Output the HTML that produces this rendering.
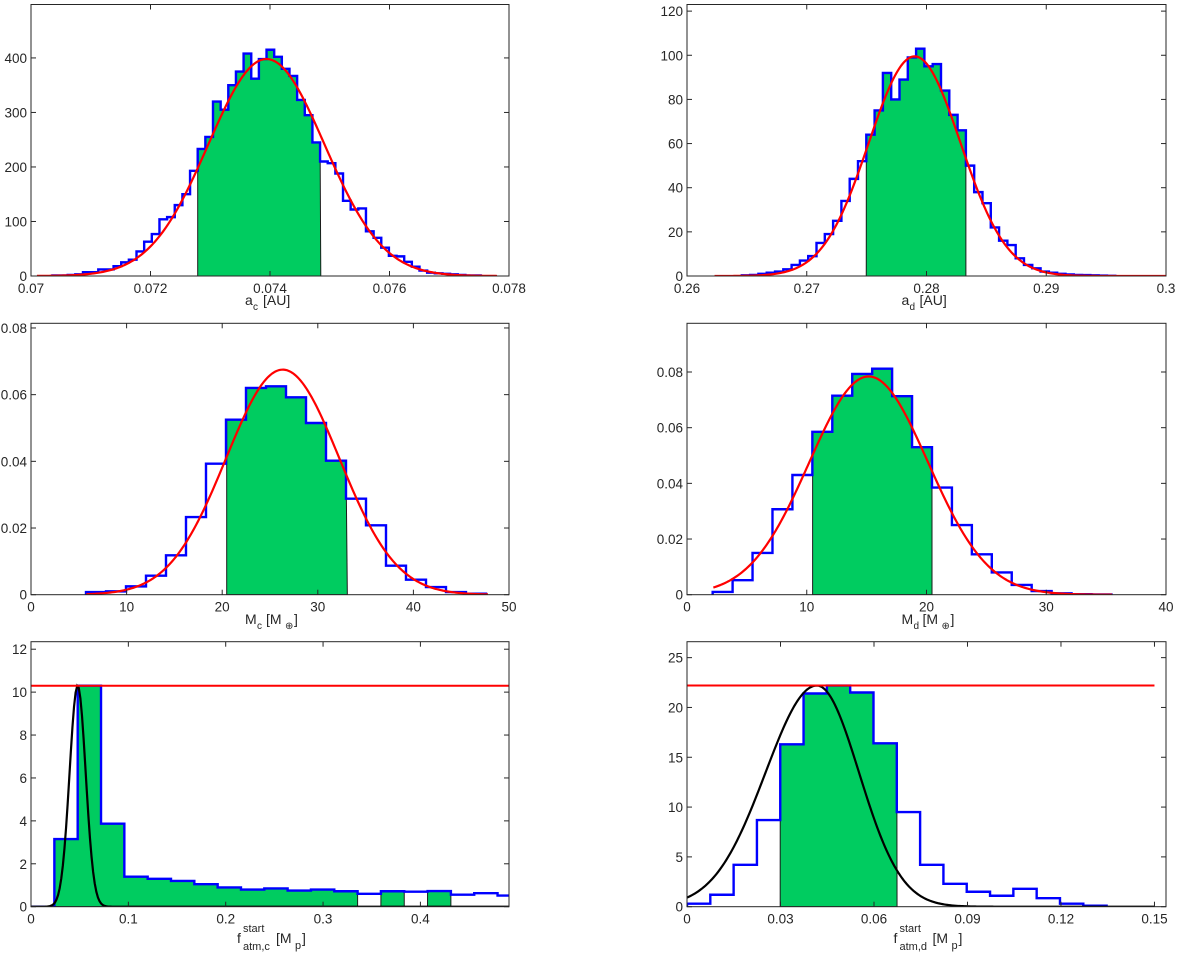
<!DOCTYPE html>
<html><head><meta charset="utf-8"><style>
body{margin:0;background:#fff}
svg{display:block;font-family:"Liberation Sans",sans-serif}
</style></head><body>
<svg id="fig" width="1200" height="953" viewBox="0 0 1200 953" xmlns="http://www.w3.org/2000/svg"></svg>
<script>
// ---- panel a_c ----
const acBinStart = 0.070358, acBinWidth = 0.000128;
const acCounts = [1,1,2,3,7,7,12,12,18,25,30,45,63,77,104,108,130,150,193,233,255,320,305,350,375,408,362,398,415,402,380,367,323,295,245,210,207,188,138,122,124,82,70,52,37,36,26,17,10,6,5,4,3,2,1,1];
const acGreen = [[0.07279,0.07485]];
const acFit = [398,0.07394,0.000972];
const acXTicks = [0.07,0.072,0.074,0.076,0.078];
const acXLabels = ["0.07","0.072","0.074","0.076","0.078"];
const acYTicks = [0,100,200,300,400];
const acYLabels = ["0","100","200","300","400"];
// ---- panel a_d ----
const adBinStart = 0.264578, adBinWidth = 0.000693;
const adCounts = [0.3,0.5,1,1.5,2,3,5,7,9,15,19,25,34,44,52,64,75,92,80,89,99,103,95,96,84,73,66,50,38,33,22,16,14,8,5,3.5,2,1.5,1,0.7,0.5,0.4,0.3,0.2,0.1];
const adGreen = [[0.27497,0.28329]];
const adFit = [99.5,0.27901,0.00383];
const adXTicks = [0.26,0.27,0.28,0.29,0.3];
const adXLabels = ["0.26","0.27","0.28","0.29","0.3"];
const adYTicks = [0,20,40,60,80,100,120];
const adYLabels = ["0","20","40","60","80","100","120"];
// ---- panel M_c ----
const mcBinStart = 5.753, mcBinWidth = 2.092;
const mcCounts = [0.0008,0.001,0.0025,0.0057,0.0118,0.0233,0.0393,0.0525,0.062,0.0625,0.0592,0.0515,0.0402,0.0288,0.0208,0.0087,0.0045,0.0023,0.0008,0.0003];
const mcGreen = [[20.47,33.09]];
const mcFit = [0.0675,26.33,5.92];
const mcXTicks = [0,10,20,30,40,50];
const mcXLabels = ["0","10","20","30","40","50"];
const mcYTicks = [0,0.02,0.04,0.06,0.08];
const mcYLabels = ["0","0.02","0.04","0.06","0.08"];
// ---- panel M_d ----
const mdBinStart = 2.143, mdBinWidth = 1.665;
const mdCounts = [0.001,0.0052,0.015,0.0307,0.043,0.0585,0.0715,0.0793,0.0812,0.0713,0.053,0.0385,0.025,0.0145,0.008,0.0035,0.0013,0.0005,0.0002,0.0001];
const mdGreen = [[10.49,20.46]];
const mdFit = [0.0784,15.17,4.96];
const mdXTicks = [0,10,20,30,40];
const mdXLabels = ["0","10","20","30","40"];
const mdYTicks = [0,0.02,0.04,0.06,0.08];
const mdYLabels = ["0","0.02","0.04","0.06","0.08"];
// ---- panel f_atm,c ----
const fcBinStart = 0.024, fcBinWidth = 0.02396;
const fcCounts = [3.15,10.3,3.87,1.4,1.3,1.2,1.05,0.9,0.8,0.85,0.75,0.8,0.72,0.6,0.72,0.7,0.73,0.56,0.63,0.52];
const fcGreen = [[0.024,0.3355],[0.3594,0.3834],[0.4073,0.4313]];
const fcFit = [10.3,0.0479,0.00828,0.00828];
const fcLimit = 10.3;
const fcXTicks = [0,0.1,0.2,0.3,0.4];
const fcXLabels = ["0","0.1","0.2","0.3","0.4"];
const fcYTicks = [0,2,4,6,8,10,12];
const fcYLabels = ["0","2","4","6","8","10","12"];
// ---- panel f_atm,d ----
const fdBinStart = 0, fdBinWidth = 0.00748;
const fdCounts = [0.3,1.2,4.2,8.7,16.3,21.4,22.2,21.5,16.4,9.5,4.2,2.3,1.5,1.1,1.8,0.85,0.3,0.1];
const fdGreen = [[0.0299,0.0674]];
const fdFit = [22.2,0.0417,0.0165,0.0135];
const fdLimit = 22.2;
const fdXTicks = [0,0.03,0.06,0.09,0.12,0.15];
const fdXLabels = ["0","0.03","0.06","0.09","0.12","0.15"];
const fdYTicks = [0,5,10,15,20,25];
const fdYLabels = ["0","5","10","15","20","25"];

const NS="http://www.w3.org/2000/svg";
const svg=document.getElementById('fig');
function mk(tag,attrs,parent){const e=document.createElementNS(NS,tag);for(const k in attrs)e.setAttribute(k,attrs[k]);(parent||svg).appendChild(e);return e;}
function txt(g,x,y,s,size,anchor){const t=mk('text',{x:x,y:y,'font-size':size,fill:'#262626','text-anchor':anchor||'start'},g);t.textContent=s;return t;}

function panel(o){
  const g=mk('g',{});
  
  
  const X=v=>o.x0+(v-o.xmin)/(o.xmax-o.xmin)*(o.x1-o.x0);
  const Y=v=>o.y0-(v-o.ymin)/(o.ymax-o.ymin)*(o.y0-o.y1);
  const cid='clip-'+o.name;
  const cp=mk('clipPath',{id:cid},g);mk('rect',{x:o.x0,y:o.y1,width:o.x1-o.x0,height:o.y0-o.y1},cp);
  const pg=mk('g',{'clip-path':'url(#'+cid+')'},g);
  o.green.forEach(r=>{
    let d='M'+X(r[0])+','+Y(0);
    o.counts.forEach((c,i)=>{const a=o.bs+i*o.bw,b=a+o.bw;const m=(a+b)/2;if(m>r[0]&&m<r[1]){d+='L'+X(Math.max(a,r[0]))+','+Y(c)+'L'+X(Math.min(b,r[1]))+','+Y(c);}});
    d+='L'+X(r[1])+','+Y(0)+'Z';
    const p=mk('path',{d:d,fill:'#00cc60',stroke:'#1a1a1a','stroke-width':1},pg);
    
    
  });
  let d='M'+X(o.bs)+','+Y(0);
  if(o.baseFrom!==undefined) d='M'+X(o.baseFrom)+','+Y(0)+'L'+X(o.bs)+','+Y(0);
  o.counts.forEach((c,i)=>{const a=o.bs+i*o.bw;d+='L'+X(a)+','+Y(c)+'L'+X(a+o.bw)+','+Y(c);});
  d+='L'+X(o.bs+o.counts.length*o.bw)+','+Y(0);
  const h=mk('path',{d:d,fill:'none',stroke:'#0000ff','stroke-width':2.4,'stroke-linejoin':'miter'},pg);
  
  
  const f=o.fit;let fd='';const n=300;
  for(let i=0;i<=n;i++){const v=o.fx0+(o.fx1-o.fx0)*i/n;const s=f.length>3?(v<f[1]?f[2]:f[3]):f[2];const yv=f[0]*Math.exp(-(v-f[1])*(v-f[1])/(2*s*s));fd+=(i?'L':'M')+X(v).toFixed(2)+','+Y(yv).toFixed(2);}
  const fc=mk('path',{d:fd,fill:'none',stroke:o.fitColor,'stroke-width':2.2},pg);
  
  
  if(o.limit!==undefined){
    const l=mk('line',{x1:X(o.xmin),x2:X(o.limitTo),y1:Y(o.limit),y2:Y(o.limit),stroke:'#ff0000','stroke-width':2},pg);
    
    
  }
  const bx=mk('rect',{x:o.x0,y:o.y1,width:o.x1-o.x0,height:o.y0-o.y1,fill:'none',stroke:'#262626','stroke-width':1},g);
  
  
  o.xt.forEach((t,i)=>{const x=X(t);
    mk('line',{x1:x,x2:x,y1:o.y0,y2:o.y0-5,stroke:'#262626'},g);mk('line',{x1:x,x2:x,y1:o.y1,y2:o.y1+5,stroke:'#262626'},g);
    const tx=txt(g,x,o.y0+17,o.xl[i],13.5,'middle');
    
    
  });
  o.yt.forEach((t,i)=>{const y=Y(t);
    mk('line',{x1:o.x0,x2:o.x0+5,y1:y,y2:y,stroke:'#262626'},g);mk('line',{x1:o.x1,x2:o.x1-5,y1:y,y2:y,stroke:'#262626'},g);
    const tx=txt(g,o.x0-4,y+5,o.yl[i],13.5,'end');
    
    
  });
  const lg=mk('g',{},g);
  
  
  const cx=(o.x0+o.x1)/2, y=o.labY;
  if(o.kind==='f'){
    txt(lg,cx-33,y,'f',14);
    txt(lg,cx-27,y-11,'start',11);
    txt(lg,cx-27,y+7,o.sub,11);
    txt(lg,cx+6,y,'[M',14);
    txt(lg,cx+25,y+6,'p',11);
    txt(lg,cx+32,y,']',14);
  } else {
    const w=o.sub.length>1?0:0;
    txt(lg,cx-25,y,o.base,14);
    txt(lg,cx-25+(o.base==='M'?12:8),y+5,o.sub,10);
    if(o.earth){txt(lg,cx-4,y,'[M',14);txt(lg,cx+15,y+5,'⊕',10);txt(lg,cx+24,y,']',14);}
    else txt(lg,cx-7,y,'[AU]',14);
  }
}

panel({name:'panel-a-c',x0:31,x1:509,y0:276,y1:4.5,xmin:0.07,xmax:0.078,ymin:0,ymax:498,bs:acBinStart,bw:acBinWidth,counts:acCounts,green:acGreen,fit:acFit,fx0:0.0701,fx1:0.0778,fitColor:'#ff0000',xt:acXTicks,xl:acXLabels,yt:acYTicks,yl:acYLabels,labY:305,base:'a',sub:'c'});
panel({name:'panel-a-d',x0:687,x1:1166,y0:276,y1:4.5,xmin:0.26,xmax:0.3,ymin:0,ymax:123,bs:adBinStart,bw:adBinWidth,counts:adCounts,green:adGreen,fit:adFit,fx0:0.2623,fx1:0.3,fitColor:'#ff0000',xt:adXTicks,xl:adXLabels,yt:adYTicks,yl:adYLabels,labY:305,base:'a',sub:'d'});
panel({name:'panel-m-c',x0:31,x1:509,y0:594.7,y1:323.3,xmin:0,xmax:50,ymin:0,ymax:0.0814,bs:mcBinStart,bw:mcBinWidth,counts:mcCounts,green:mcGreen,fit:mcFit,fx0:5.8,fx1:47.8,fitColor:'#ff0000',xt:mcXTicks,xl:mcXLabels,yt:mcYTicks,yl:mcYLabels,labY:624,base:'M',sub:'c',earth:true});
panel({name:'panel-m-d',x0:687,x1:1166,y0:594.7,y1:323.3,xmin:0,xmax:40,ymin:0,ymax:0.0975,bs:mdBinStart,bw:mdBinWidth,counts:mdCounts,green:mdGreen,fit:mdFit,fx0:2.2,fx1:35.5,fitColor:'#ff0000',xt:mdXTicks,xl:mdXLabels,yt:mdYTicks,yl:mdYLabels,labY:624,base:'M',sub:'d',earth:true});
panel({name:'panel-f-atm-c',kind:'f',sub:'atm,c',x0:31,x1:509,y0:906.7,y1:641.7,xmin:0,xmax:0.491,ymin:0,ymax:12.35,bs:fcBinStart,bw:fcBinWidth,counts:fcCounts,green:fcGreen,fit:fcFit,fx0:0,fx1:0.491,fitColor:'#000000',limit:fcLimit,limitTo:0.491,baseFrom:0,xt:fcXTicks,xl:fcXLabels,yt:fcYTicks,yl:fcYLabels,labY:943});
panel({name:'panel-f-atm-d',kind:'f',sub:'atm,d',x0:687,x1:1166,y0:906.7,y1:641.7,xmin:0,xmax:0.1537,ymin:0,ymax:26.6,bs:fdBinStart,bw:fdBinWidth,counts:fdCounts,green:fdGreen,fit:fdFit,fx0:0,fx1:0.15,fitColor:'#000000',limit:fdLimit,limitTo:0.15,xt:fdXTicks,xl:fdXLabels,yt:fdYTicks,yl:fdYLabels,labY:943});
</script>
</body></html>
